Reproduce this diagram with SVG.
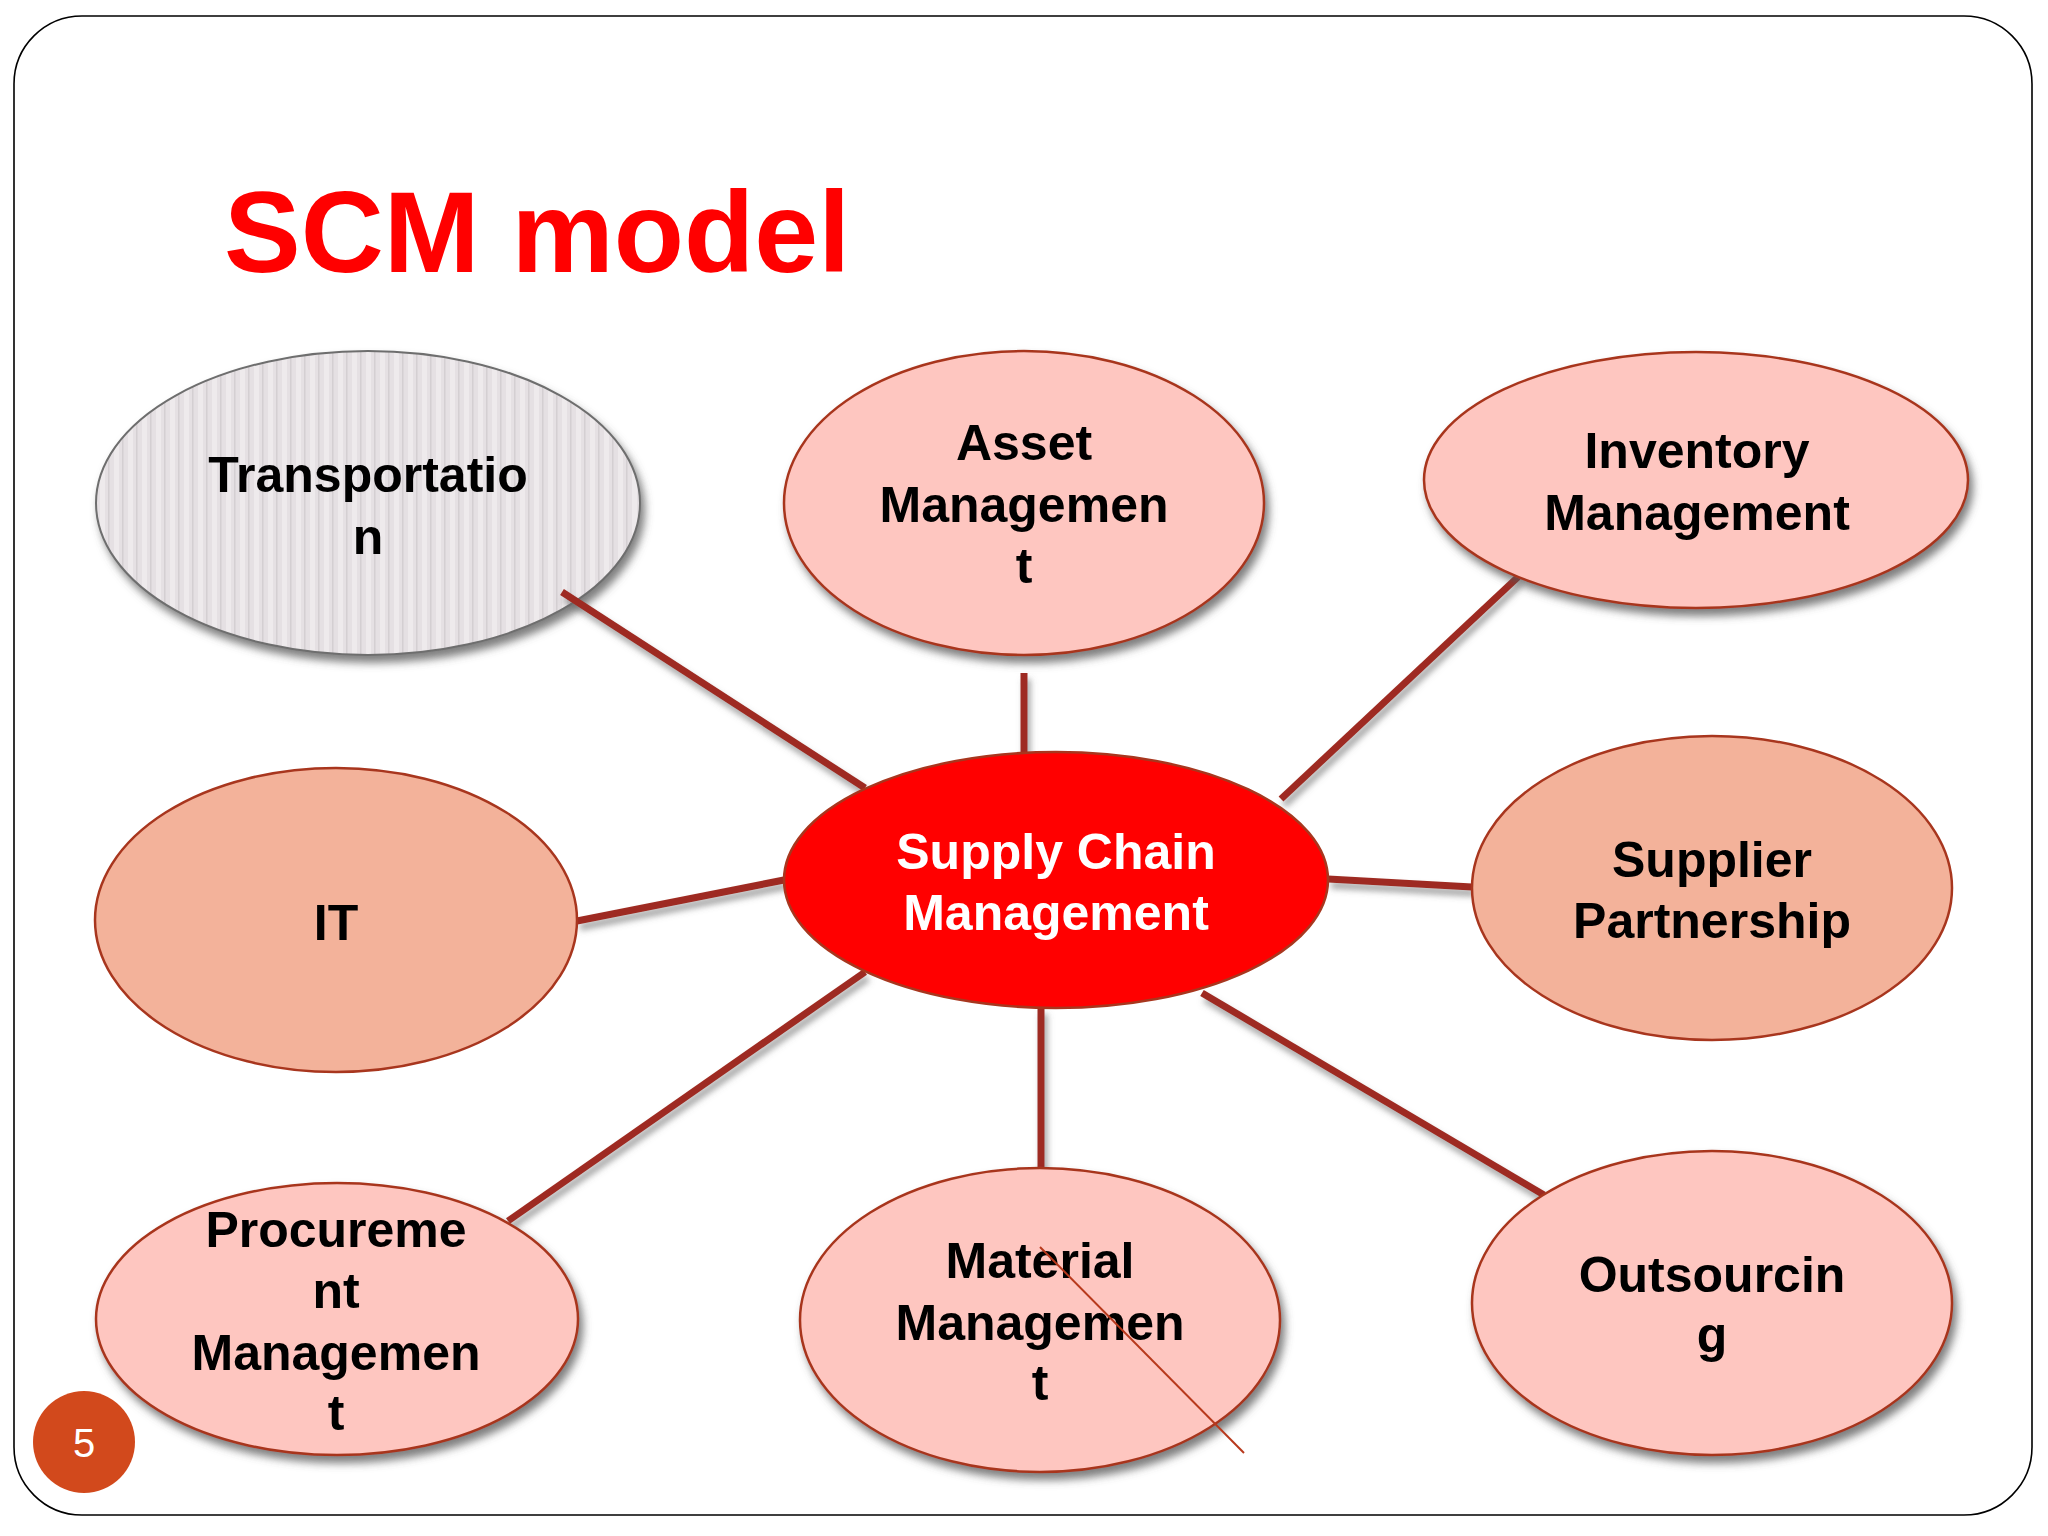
<svg xmlns="http://www.w3.org/2000/svg" width="2048" height="1536" viewBox="0 0 2048 1536">
<defs>
<filter id="sh" x="-10%" y="-10%" width="130%" height="130%">
<feDropShadow dx="4" dy="7" stdDeviation="4" flood-color="#555" flood-opacity="0.75"/>
</filter>
<filter id="lsh" x="-10%" y="-10%" width="130%" height="130%">
<feDropShadow dx="3" dy="6" stdDeviation="3" flood-color="#666" flood-opacity="0.6"/>
</filter>
<pattern id="stripes" width="14" height="20" patternUnits="userSpaceOnUse">
<rect width="14" height="20" fill="#E5E0E3"/>
<rect x="2" width="5" height="20" fill="#EEEAEC"/>
<rect x="10" width="1.5" height="20" fill="#D4CFD2"/>
</pattern>
</defs>
<style>
.pink{fill:#FEC6C0;stroke:#A8361E;stroke-width:2.5}
.salmon{fill:#F3B29A;stroke:#A8361E;stroke-width:2.5}
.lbl{font-family:"Liberation Sans",Arial,sans-serif;font-weight:bold;font-size:50px;fill:#000;text-anchor:middle}
.wlbl{fill:#fff}
.conn{stroke:#9E2B20;stroke-width:7;fill:none}
</style>
<rect width="2048" height="1536" fill="#fff"/>
<rect x="14" y="16" width="2018" height="1499" rx="68" ry="68" fill="none" stroke="#000" stroke-width="1.6"/>
<text x="224" y="272" font-family="Liberation Sans,Arial,sans-serif" font-weight="bold" font-size="115" fill="#FF0000">SCM model</text>

<g id="transportation">
<ellipse cx="368" cy="503" rx="272" ry="152" fill="url(#stripes)" stroke="#6E6E6E" stroke-width="2" filter="url(#sh)"/>
<text class="lbl" x="368" y="492">Transportatio</text>
<text class="lbl" x="368" y="554">n</text>
</g>

<g id="connectors" filter="url(#lsh)">
<line class="conn" x1="562" y1="592" x2="865" y2="788"/>
<line class="conn" x1="1024" y1="673" x2="1024" y2="754"/>
<line class="conn" x1="1518" y1="577" x2="1281" y2="799"/>
<line class="conn" x1="577" y1="921" x2="784" y2="880"/>
<line class="conn" x1="1328" y1="879" x2="1472" y2="887"/>
<line class="conn" x1="508" y1="1221" x2="865" y2="972"/>
<line class="conn" x1="1041" y1="1008" x2="1041" y2="1169"/>
<line class="conn" x1="1202" y1="993" x2="1544" y2="1195"/>
</g>

<g id="asset">
<ellipse class="pink" cx="1024" cy="503" rx="240" ry="152" filter="url(#sh)"/>
<text class="lbl" x="1024" y="460">Asset</text>
<text class="lbl" x="1024" y="522">Managemen</text>
<text class="lbl" x="1024" y="583">t</text>
</g>

<g id="inventory">
<ellipse class="pink" cx="1696" cy="480" rx="272" ry="128" filter="url(#sh)"/>
<text class="lbl" x="1697" y="468">Inventory</text>
<text class="lbl" x="1697" y="530">Management</text>
</g>

<g id="it">
<ellipse class="salmon" cx="336" cy="920" rx="241" ry="152"/>
<text class="lbl" x="336" y="940">IT</text>
</g>

<g id="scm">
<ellipse cx="1056" cy="880" rx="272" ry="128" fill="#FF0000" stroke="#A8361E" stroke-width="2.5"/>
<text class="lbl wlbl" x="1056" y="869">Supply Chain</text>
<text class="lbl wlbl" x="1056" y="930">Management</text>
</g>

<g id="supplier">
<ellipse class="salmon" cx="1712" cy="888" rx="240" ry="152"/>
<text class="lbl" x="1712" y="877">Supplier</text>
<text class="lbl" x="1712" y="938">Partnership</text>
</g>

<g id="procurement">
<ellipse class="pink" cx="337" cy="1319" rx="241" ry="136" filter="url(#sh)"/>
<text class="lbl" x="336" y="1247">Procureme</text>
<text class="lbl" x="336" y="1308">nt</text>
<text class="lbl" x="336" y="1370">Managemen</text>
<text class="lbl" x="336" y="1430">t</text>
</g>

<g id="material">
<ellipse class="pink" cx="1040" cy="1320" rx="240" ry="152" filter="url(#sh)"/>
<text class="lbl" x="1040" y="1278">Material</text>
<text class="lbl" x="1040" y="1340">Managemen</text>
<text class="lbl" x="1040" y="1400">t</text>
<line x1="1040" y1="1247" x2="1244" y2="1453" stroke="#B8391C" stroke-width="2"/>
</g>

<g id="outsourcing">
<ellipse class="pink" cx="1712" cy="1303" rx="240" ry="152" filter="url(#sh)"/>
<text class="lbl" x="1712" y="1292">Outsourcin</text>
<text class="lbl" x="1712" y="1352">g</text>
</g>

<g id="page">
<circle cx="84" cy="1442" r="51" fill="#D2491C"/>
<text x="84" y="1457" font-family="Liberation Sans,Arial,sans-serif" font-size="40" fill="#fff" text-anchor="middle">5</text>
</g>
</svg>
